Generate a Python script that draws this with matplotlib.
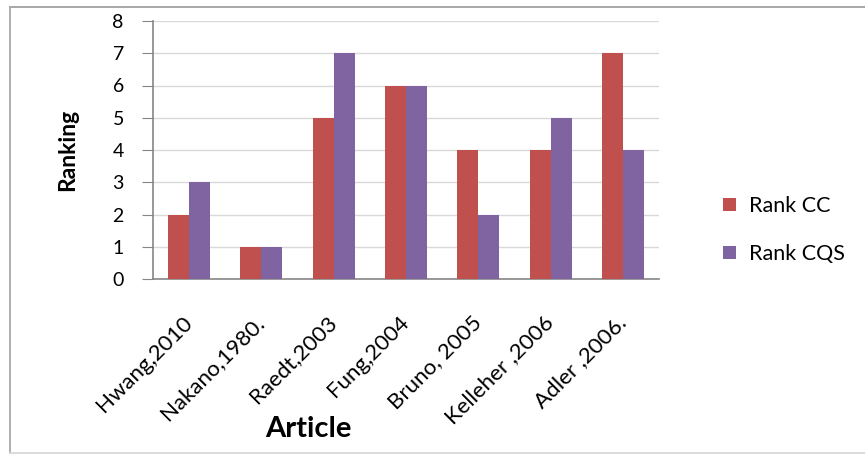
import matplotlib
matplotlib.use("Agg")
import matplotlib.pyplot as plt
from matplotlib.lines import Line2D
import numpy as np

plt.rcParams['font.family'] = ['Lato', 'DejaVu Sans']

articles = ["Hwang,2010", "Nakano,1980.", "Raedt,2003", "Fung,2004",
            "Bruno, 2005", "Kelleher ,2006", "Adler ,2006."]
rank_cc = [2, 1, 5, 6, 4, 4, 7]
rank_cqs = [3, 1, 7, 6, 2, 5, 4]
series_names = ["Rank CC", "Rank CQS"]
colors = ["#C0504D", "#8064A2"]
y_ticks = [0, 1, 2, 3, 4, 5, 6, 7, 8]

W, H = 865, 455
fig = plt.figure(figsize=(W / 100, H / 100), dpi=100)

# chart frame (runs off the right edge of the canvas)
def frame_line(xs, ys, color):
    fig.add_artist(Line2D([v / W for v in xs], [1 - v / H for v in ys],
                          transform=fig.transFigure, color=color, linewidth=1.3))

frame_line([10, 866], [6.5, 6.5], "#A0A0A0")
frame_line([10, 10], [6.5, 453], "#A8A8A8")
frame_line([10, 866], [453, 453], "#D8D8D8")

ax = fig.add_axes([153 / W, 176 / H, 506 / W, 258 / H])
x = np.arange(len(articles))
bw = 0.29
ax.bar(x - bw / 2, rank_cc, bw, color=colors[0], label=series_names[0], zorder=3)
ax.bar(x + bw / 2, rank_cqs, bw, color=colors[1], label=series_names[1], zorder=3)

ax.set_xlim(-0.5, len(articles) - 0.5)
ax.set_ylim(0, 8)
ax.set_yticks(y_ticks)
ax.set_yticklabels([str(t) for t in y_ticks], fontsize=14)
ax.yaxis.grid(True, color="#D9D9D9", linewidth=1, zorder=0)
ax.set_axisbelow(True)

for s in ["top", "right"]:
    ax.spines[s].set_visible(False)
for s in ["left", "bottom"]:
    ax.spines[s].set_color("#868686")
    ax.spines[s].set_linewidth(1.2)

ax.tick_params(axis="y", length=8, color="#868686", pad=13, labelcolor="#000000")
ax.tick_params(axis="x", length=0, pad=24)
ax.set_xticks(x - 0.1)
ax.set_xticklabels(articles, rotation=45, ha="right", va="top",
                   rotation_mode="anchor", fontsize=16)

ax.set_ylabel("Ranking", fontsize=16.5, fontweight="bold", labelpad=25)
fig.text(308 / W, 1 - 429 / H, "Article", fontsize=21, fontweight="bold",
         ha="center", va="center")

ax.legend(loc="center left", bbox_to_anchor=(704 / W, 1 - 230 / H),
          bbox_transform=fig.transFigure, frameon=False, fontsize=15.5,
          handlelength=0.6, handleheight=0.6, labelspacing=1.3,
          handletextpad=0.6)

fig.savefig("out.png", dpi=100)
